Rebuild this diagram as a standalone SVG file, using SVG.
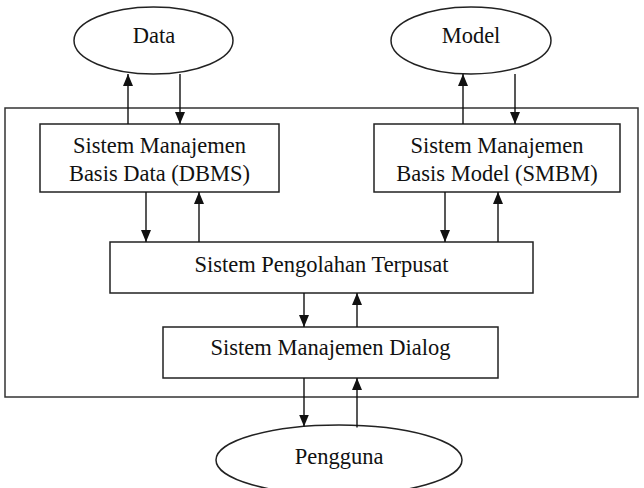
<svg xmlns="http://www.w3.org/2000/svg" width="644" height="488" viewBox="0 0 644 488">
<style>
.shape{fill:#fff;stroke:#222;stroke-width:1.5}
.frame{fill:none;stroke:#333;stroke-width:1.5}
.lbl{font-family:"Liberation Serif","Times New Roman",serif;font-size:22.5px;fill:#111;text-anchor:middle}
.conn line{stroke:#111;stroke-width:1.4;marker-end:url(#ah)}
</style>
<defs>
<marker id="ah" markerUnits="userSpaceOnUse" markerWidth="12" markerHeight="10" refX="12" refY="5" orient="auto">
<path d="M0,0 L12,5 L0,10 z" fill="#111"/>
</marker>
</defs>
<rect class="frame" x="5" y="108" width="633" height="289"/>
<g id="data"><ellipse class="shape" cx="153.5" cy="40.5" rx="79.5" ry="33.5"/><text class="lbl" x="154" y="42.7">Data</text></g>
<g id="model"><ellipse class="shape" cx="471" cy="40.5" rx="80" ry="33.5"/><text class="lbl" x="471" y="42.7">Model</text></g>
<g id="dbms"><rect class="shape" x="40" y="124" width="239" height="68"/><text class="lbl" x="159.5" y="152.7">Sistem Manajemen</text><text class="lbl" x="159.5" y="180.5">Basis Data (DBMS)</text></g>
<g id="smbm"><rect class="shape" x="374" y="124" width="246" height="68"/><text class="lbl" x="497" y="152.7">Sistem Manajemen</text><text class="lbl" x="497" y="180.5">Basis Model (SMBM)</text></g>
<g id="pusat"><rect class="shape" x="110" y="242" width="423" height="51"/><text class="lbl" x="321.5" y="272.3">Sistem Pengolahan Terpusat</text></g>
<g id="dialog"><rect class="shape" x="163" y="327" width="335" height="51"/><text class="lbl" x="330.5" y="355.3">Sistem Manajemen Dialog</text></g>
<g id="pengguna"><ellipse class="shape" cx="339" cy="460" rx="123" ry="35"/><text class="lbl" x="339" y="464.3">Pengguna</text></g>
<g id="connectors" class="conn">
<line x1="128" y1="124" x2="128" y2="74"/>
<line x1="180" y1="74" x2="180" y2="124"/>
<line x1="463" y1="124" x2="463" y2="74"/>
<line x1="515" y1="74" x2="515" y2="124"/>
<line x1="146" y1="192" x2="146" y2="242"/>
<line x1="199" y1="242" x2="199" y2="192"/>
<line x1="445" y1="192" x2="445" y2="242"/>
<line x1="498" y1="242" x2="498" y2="192"/>
<line x1="304" y1="293" x2="304" y2="327"/>
<line x1="357" y1="327" x2="357" y2="293"/>
<line x1="304" y1="378" x2="304" y2="426.5"/>
<line x1="357" y1="427.5" x2="357" y2="378"/>
</g>
</svg>
